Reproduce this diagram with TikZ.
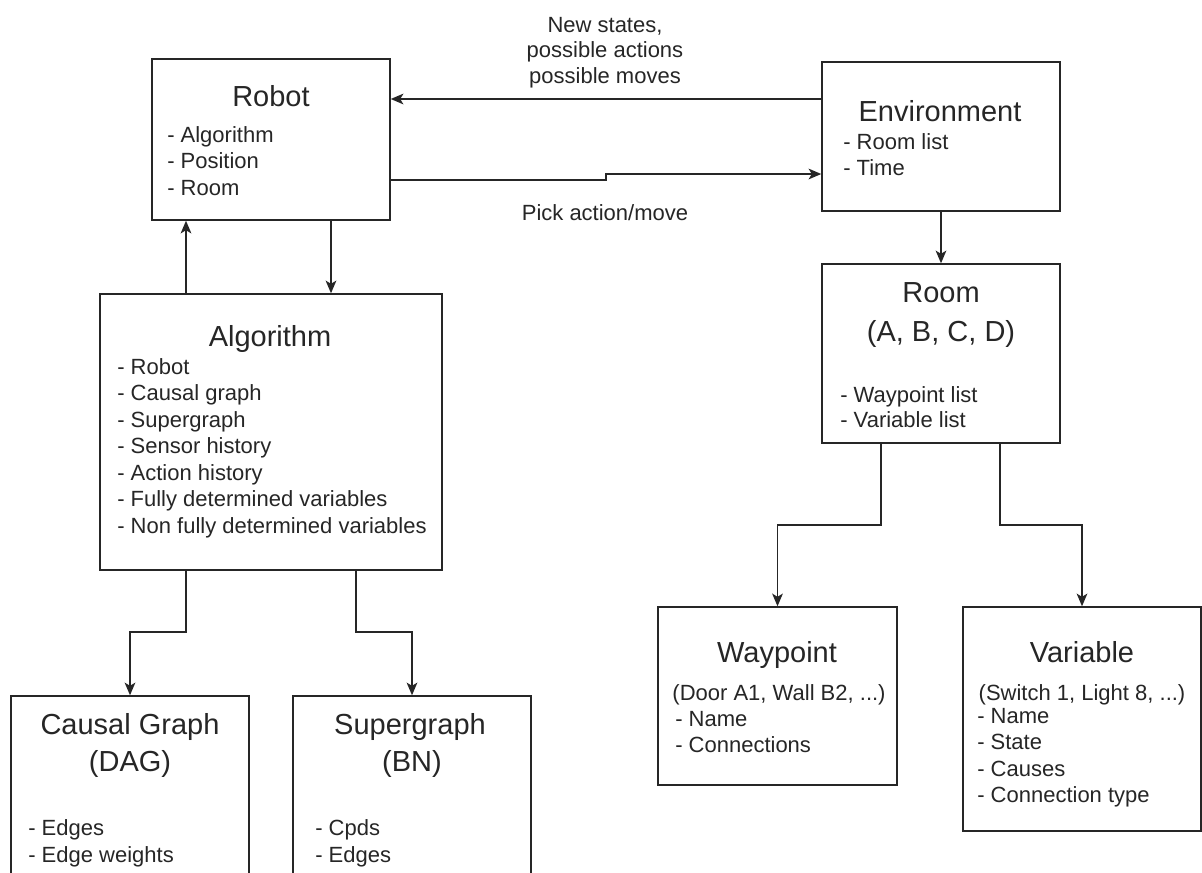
\documentclass[tikz,border=0pt]{standalone}
\usepackage{fontspec}
\setmainfont{Liberation Sans}
\usetikzlibrary{arrows.meta,fit}
\definecolor{ink}{HTML}{262626}
\tikzset{
  box/.style={draw=ink, line width=1.1pt, rectangle, inner sep=0pt},
  title/.style={anchor=base, inner sep=0pt, text=ink, font=\fontsize{21.75pt}{26pt}\selectfont},
  item/.style={anchor=base west, inner sep=0pt, text=ink, font=\fontsize{16.5pt}{20pt}\selectfont},
  note/.style={anchor=base, inner sep=0pt, text=ink, font=\fontsize{16.5pt}{20pt}\selectfont},
  link/.style={draw=ink, line width=1.1pt, -{Stealth[length=9.5pt, width=8pt, inset=2.4pt]}},
}
\begin{document}
\begin{tikzpicture}[x=0.75pt, y=-0.75pt]
  \fill[white] (0,0) rectangle (1202,872);
  \clip (0,0) rectangle (1202,872);

  % boxes
  \node[box, fit={(152,59) (390,220)}]   (robot) {};
  \node[box, fit={(822,62) (1060,211)}]  (env) {};
  \node[box, fit={(822,264) (1060,443)}] (room) {};
  \node[box, fit={(100,294) (442,570)}]  (algo) {};
  \node[box, fit={(11,696) (249,900)}]   (causal) {};
  \node[box, fit={(293,696) (531,900)}]  (super) {};
  \node[box, fit={(658,607) (897,785)}]  (waypoint) {};
  \node[box, fit={(963,607) (1201,831)}] (variable) {};

  % helper coordinates for the connector routes
  \coordinate (rowA) at (0,99);
  \coordinate (rowB) at (0,180);
  \coordinate (rowC) at (0,174);
  \coordinate (stepX) at (606,0);
  \coordinate (upX) at (186,0);
  \coordinate (downX) at (331,0);
  \coordinate (cgX) at (186,0);
  \coordinate (sgX) at (356,0);
  \coordinate (jogL) at (0,632);
  \coordinate (wpX) at (881,0);
  \coordinate (vaX) at (1000,0);
  \coordinate (jogR) at (0,525);

  % connectors
  \draw[link] (env.west |- rowA) -- (robot.east |- rowA);
  \draw[link] (robot.east |- rowB) -- (stepX |- rowB) -- (stepX |- rowC) -- (env.west |- rowC);
  \draw[link] (algo.north -| upX) -- (robot.south -| upX);
  \draw[link] (robot.south -| downX) -- (algo.north -| downX);
  \draw[link] (env.south) -- (room.north);
  \draw[link] (algo.south -| cgX) -- (cgX |- jogL) -- (causal.north |- jogL) -- (causal.north);
  \draw[link] (algo.south -| sgX) -- (sgX |- jogL) -- (super.north |- jogL) -- (super.north);
  \draw[link] (room.south -| wpX) -- (wpX |- jogR) -- (waypoint.north |- jogR) -- (waypoint.north);
  \draw[link] (room.south -| vaX) -- (vaX |- jogR) -- (variable.north |- jogR) -- (variable.north);

  % connector labels
  \node[note] (lblA1) at (605,32) {New states,};
  \node[note] (lblA2) at (605,57) {possible actions};
  \node[note] (lblA3) at (605,83) {possible moves};
  \node[note] (lblB)  at (605,220) {Pick action/move};

  % Robot
  \node[title] (robotT) at (271,106) {Robot};
  \node[item] (robot1) at (167,142) {- Algorithm};
  \node[item] (robot2) at (167,168.5) {- Position};
  \node[item] (robot3) at (167,195) {- Room};

  % Environment
  \node[title] (envT) at (940,121) {Environment};
  \node[item] (env1) at (843,149) {- Room list};
  \node[item] (env2) at (843,175) {- Time};

  % Room
  \node[title] (roomT) at (941,302) {Room};
  \node[title] (roomS) at (941,341) {(A, B, C, D)};
  \node[item] (room1) at (840,402) {- Waypoint list};
  \node[item] (room2) at (840,427) {- Variable list};

  % Algorithm
  \node[title] (algoT) at (270,346) {Algorithm};
  \node[item] (algo1) at (117,374) {- Robot};
  \node[item] (algo2) at (117,400.5) {- Causal graph};
  \node[item] (algo3) at (117,427) {- Supergraph};
  \node[item] (algo4) at (117,453.5) {- Sensor history};
  \node[item] (algo5) at (117,480) {- Action history};
  \node[item] (algo6) at (117,506.5) {- Fully determined variables};
  \node[item] (algo7) at (117,533) {- Non fully determined variables};

  % Causal Graph
  \node[title] (causalT) at (130,734) {Causal Graph};
  \node[title] (causalS) at (130,771) {(DAG)};
  \node[item] (causal1) at (28,835) {- Edges};
  \node[item] (causal2) at (28,862) {- Edge weights};

  % Supergraph
  \node[title] (superT) at (410,734) {Supergraph};
  \node[title] (superS) at (412,771) {(BN)};
  \node[item] (super1) at (315,835) {- Cpds};
  \node[item] (super2) at (315,862) {- Edges};

  % Waypoint
  \node[title] (wpT) at (777,662) {Waypoint};
  \node[note] (wpS) at (779,700) {(Door A1, Wall B2, ...)};
  \node[item] (wp1) at (675,726) {- Name};
  \node[item] (wp2) at (675,752) {- Connections};

  % Variable
  \node[title] (vaT) at (1082,662) {Variable};
  \node[note] (vaS) at (1082,700) {(Switch 1, Light 8, ...)};
  \node[item] (va1) at (977,723) {- Name};
  \node[item] (va2) at (977,749) {- State};
  \node[item] (va3) at (977,776) {- Causes};
  \node[item] (va4) at (977,802) {- Connection type};
\end{tikzpicture}
\end{document}
